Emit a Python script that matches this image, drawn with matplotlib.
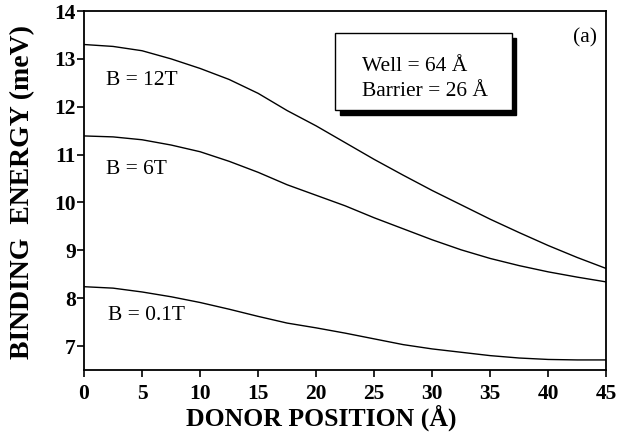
import numpy as np
import matplotlib
matplotlib.use("Agg")
import matplotlib.pyplot as plt
from matplotlib.patches import Rectangle

# Donor binding energy vs. donor position for three magnetic fields
position = [0, 2.5, 5, 7.5, 10, 12.5, 15, 17.5, 20, 22.5,
            25, 27.5, 30, 32.5, 35, 37.5, 40, 42.5, 45]
e_12T = [13.30, 13.26, 13.17, 13.00, 12.80, 12.57, 12.28, 11.92, 11.60, 11.25,
         10.90, 10.57, 10.25, 9.95, 9.65, 9.37, 9.10, 8.85, 8.62]
e_6T = [11.39, 11.37, 11.31, 11.20, 11.06, 10.86, 10.63, 10.37, 10.15, 9.93,
        9.68, 9.45, 9.22, 9.01, 8.83, 8.68, 8.55, 8.44, 8.34]
e_01T = [8.24, 8.21, 8.13, 8.03, 7.91, 7.77, 7.62, 7.48, 7.38, 7.27,
         7.15, 7.03, 6.94, 6.87, 6.80, 6.75, 6.72, 6.71, 6.71]

curve_labels = ["B = 12T", "B = 6T", "B = 0.1T"]
label_pos = [(1.9, 12.54), (1.9, 10.69), (2.1, 7.63)]

xticks = [0, 5, 10, 15, 20, 25, 30, 35, 40, 45]
yticks = [7, 8, 9, 10, 11, 12, 13, 14]

plt.rcParams['font.family'] = ['Liberation Serif', 'DejaVu Serif']

fig = plt.figure(figsize=(6.18, 4.44), dpi=100)
ax = fig.add_axes([0.136, 0.1667, 0.845, 0.8085])

for e in (e_12T, e_6T, e_01T):
    ax.plot(position, e, color='black', lw=1.0)

for txt, (x, y) in zip(curve_labels, label_pos):
    ax.text(x, y, txt, fontsize=15.5, ha='left', va='center')

ax.set_xlim(0, 45)
ax.set_ylim(6.5, 14)
ax.set_xticks(xticks)
ax.set_yticks(yticks)
ax.tick_params(axis='x', direction='out', length=5, width=1.2, pad=5, labelsize=15.5)
ax.tick_params(axis='y', direction='out', length=5, width=1.2, pad=1, labelsize=15.5)
for lab in ax.get_xticklabels() + ax.get_yticklabels():
    lab.set_fontweight('bold')
for s in ax.spines.values():
    s.set_linewidth(1.3)

ax.set_xlabel("DONOR POSITION (Å)", fontsize=18.5, fontweight='bold')
ax.set_ylabel("BINDING  ENERGY (meV)", fontsize=20, fontweight='bold')
ax.xaxis.set_label_coords(0.455, -0.095)
ax.yaxis.set_label_coords(-0.094, 0.497)

# info box with drop shadow
bx, by, bw, bh = 0.481, 0.724, 0.338, 0.214
dx, dy = 0.009, -0.014
ax.add_patch(Rectangle((bx + dx, by + dy), bw, bh, transform=ax.transAxes,
                       facecolor='black', edgecolor='black', zorder=3))
ax.add_patch(Rectangle((bx, by), bw, bh, transform=ax.transAxes,
                       facecolor='white', edgecolor='black', lw=1.0, zorder=4))
ax.text(0.532, 0.845, "Well = 64 Å", transform=ax.transAxes,
        fontsize=15.5, ha='left', va='center', zorder=5)
ax.text(0.532, 0.775, "Barrier = 26 Å", transform=ax.transAxes,
        fontsize=15.5, ha='left', va='center', zorder=5)

ax.text(0.96, 0.925, "(a)", transform=ax.transAxes, fontsize=15.5,
        ha='center', va='center')

fig.savefig("out.png", dpi=100)
